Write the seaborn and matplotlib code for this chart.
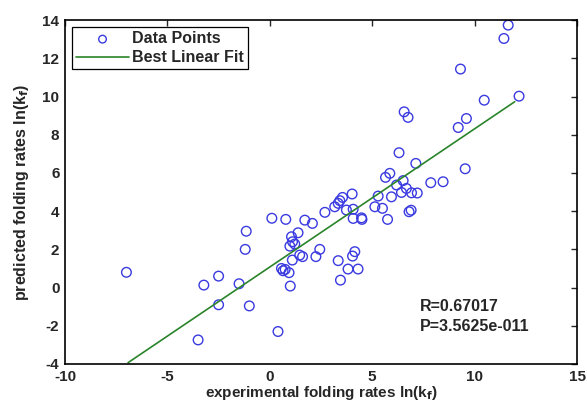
import numpy as np
import pandas as pd
import matplotlib
matplotlib.use("Agg")
import matplotlib.pyplot as plt
import seaborn as sns

# experimental vs predicted folding rates
exp_rate = [-7.0, -3.5, -3.22, -2.5, -2.5, -1.5, -1.15, -1.2, -1.0, 0.4,
            0.1, 0.78, 1.0, 0.57, 0.65, 0.75, 0.94, 1.1, 1.06, 1.38,
            1.11, 1.22, 0.98, 1.46, 1.6, 2.44, 2.25, 1.71, 2.08, 2.69,
            3.17, 3.34, 3.42, 3.55, 4.02, 3.74, 4.07, 4.07, 4.48, 4.5,
            3.34, 4.04, 4.15, 3.82, 4.31, 3.45, 5.13, 5.5, 5.29, 5.75,
            5.94, 5.65, 5.86, 6.19, 6.51, 6.43, 6.67, 6.92, 7.2, 6.8,
            6.9, 7.86, 8.46, 7.13, 6.31, 9.54, 9.2, 9.6, 6.56, 6.75,
            10.47, 12.17, 9.31, 11.43, 11.64]
pred_rate = [0.8, -2.74, 0.13, 0.6, -0.9, 0.2, 2.95, 2.0, -0.96, -2.3,
             3.63, 3.57, 0.08, 1.0, 0.88, 0.95, 0.78, 1.44, 2.66, 2.87,
             2.4, 2.28, 2.17, 1.7, 1.62, 2.0, 1.62, 3.53, 3.36, 3.94,
             4.23, 4.41, 4.55, 4.72, 4.9, 4.06, 4.1, 3.62, 3.65, 3.57,
             1.41, 1.65, 1.88, 0.97, 0.97, 0.39, 4.23, 4.15, 4.79, 3.57,
             4.75, 5.77, 5.98, 5.37, 5.6, 4.98, 5.19, 4.96, 4.95, 3.97,
             4.05, 5.49, 5.54, 6.5, 7.06, 6.22, 8.38, 8.85, 9.2, 8.91,
             9.81, 10.02, 11.44, 13.04, 13.74]

# best linear fit end points
fit_x = [-6.92, 11.96]
fit_y = [-3.93, 9.73]

x_ticks = [-10, -5, 0, 5, 10, 15]
y_ticks = [-4, -2, 0, 2, 4, 6, 8, 10, 12, 14]

df = pd.DataFrame({"exp": exp_rate, "pred": pred_rate})
fit = pd.DataFrame({"x": fit_x, "y": fit_y})

sns.set_style("white")
plt.rcParams["font.family"] = ["Liberation Sans", "DejaVu Sans"]
plt.rcParams["font.weight"] = "bold"
plt.rcParams["axes.unicode_minus"] = False

fig = plt.figure(figsize=(5.87, 4.03), dpi=100)
ax = fig.add_axes([0.1107, 0.0968, 0.8723, 0.8532])

sns.scatterplot(data=df, x="exp", y="pred", marker="o", s=48,
                facecolors="none", edgecolor="#3a3ae0", linewidth=1.0,
                label="Data Points", ax=ax)
sns.lineplot(data=fit, x="x", y="y", color="#2a842a", linewidth=1.2,
             label="Best Linear Fit", ax=ax)

ax.set_xlim(-10, 15)
ax.set_ylim(-4, 14)
ax.set_xticks(x_ticks)
ax.set_yticks(y_ticks)
ax.tick_params(direction="in", top=True, right=True, length=4,
               labelsize=11, width=1, pad=4)
for lab in ax.get_xticklabels() + ax.get_yticklabels():
    lab.set_fontweight("bold")
for sp in ax.spines.values():
    sp.set_color("black")
    sp.set_linewidth(1.2)

ax.set_xlabel("experimental folding rates ln(k$_\\mathbf{f}$)",
              fontsize=11, fontweight="bold", labelpad=0)
ax.set_ylabel("predicted folding rates ln(k$_\\mathbf{f}$)",
              fontsize=11.5, fontweight="bold", labelpad=8)

ax.text(7.32, -0.97, "R=0.67017", fontsize=11.5, fontweight="bold", va="center")
ax.text(7.32, -2.05, "P=3.5625e-011", fontsize=11.5, fontweight="bold", va="center")

leg = ax.legend(loc="upper left", fancybox=False, framealpha=1,
                edgecolor="black", fontsize=11.5, borderpad=0.25,
                handlelength=3.3, handletextpad=0.2, labelspacing=0.25,
                borderaxespad=0.45)
for t in leg.get_texts():
    t.set_fontweight("bold")
leg.legend_handles[0].set_sizes([30])
leg.get_frame().set_linewidth(0.9)

fig.savefig("out.png", dpi=100)
